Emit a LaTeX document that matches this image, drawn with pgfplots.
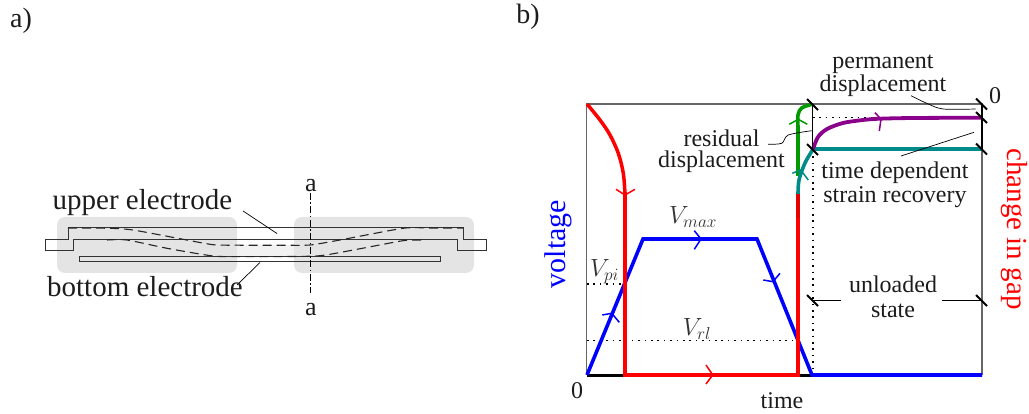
\documentclass[border=0pt]{standalone}
\usepackage{fontspec}
\setmainfont{Liberation Serif}
\usepackage{pgfplots}
\pgfplotsset{compat=1.18}
\definecolor{txt}{HTML}{1C1C1C}
\definecolor{panelgray}{HTML}{E4E4E4}
\definecolor{pale}{HTML}{F2F2F2}
\definecolor{frm}{HTML}{666666}
\definecolor{lteal}{HTML}{008B8B}
\definecolor{lgreen}{HTML}{009A00}
\definecolor{lpurple}{HTML}{8B008B}
\newcommand{\fs}[1]{\fontsize{#1}{#1}\selectfont}
\begin{document}
\begin{tikzpicture}[
  lab/.style={text=txt,inner sep=0pt,anchor=base},
  dots/.style={black,line width=1.6pt,dash pattern=on 1.6pt off 4.8pt},
  slash/.style={black,line width=1.8pt},
  chev/.style={line width=1.5pt},
  ]
\path[use as bounding box] (0,0) rectangle (1029pt,414pt);
\begin{axis}[
  at={(0,0)},anchor=south west,
  width=1029pt,height=414pt,scale only axis,
  xmin=0,xmax=1029,ymin=0,ymax=414,y dir=reverse,
  hide axis,clip=false,
  every axis plot/.append style={no markers,line join=miter},
  ]
% ---------- panel a ----------
\addplot[fill=panelgray,draw=none,rounded corners=8pt] coordinates {(57,217)(237,217)(237,273)(57,273)(57,245)} -- cycle;
\addplot[fill=panelgray,draw=none,rounded corners=8pt] coordinates {(294,217)(474,217)(474,273)(294,273)(294,245)} -- cycle;
\addplot[fill=pale,draw=none] coordinates {(237,245)(294,245)(294,256)(237,256)} -- cycle;
\addplot[black!80,line width=1pt] coordinates {(45,239.4)(68,239.4)(68,228)(463,228)(463,239.4)(486,239.4)(486,250.4)(457,250.4)(457,239.4)(73,239.4)(73,250.4)(45,250.4)} -- cycle;
\addplot[black!80,line width=1pt] coordinates {(79,256.4)(440,256.4)(440,262)(79,262)} -- cycle;
\addplot[black!85,line width=1.1pt,dash pattern=on 9pt off 5pt,smooth,tension=0.4] coordinates {(68,228)(110,228.3)(133,230)(180,238.7)(213,244.7)(240,245.2)(280,245.2)(310,245)(340,240)(403,228.3)(430,228)(463,228)};
\addplot[black!85,line width=1.1pt,dash pattern=on 9pt off 5pt,smooth,tension=0.4] coordinates {(107,240)(127,240)(167,248.3)(213,256)(240,256.6)(280,256.6)(320,255.7)(357,249.3)(403,240.7)(423,240)};
\addplot[black,line width=0.8pt,dash pattern=on 7pt off 2.5pt on 1.5pt off 2.5pt] coordinates {(310.7,193)(310.7,293)};
\addplot[black,line width=0.7pt] coordinates {(243,211)(277,233.5)};
\addplot[black,line width=0.7pt] coordinates {(260,262.5)(237,285)};
\node[lab,font=\fs{29}] at (axis cs:142.5,210) {upper electrode};
\node[lab,font=\fs{29}] at (axis cs:145,297) {bottom electrode};
\node[lab,font=\fs{26}] at (axis cs:311,192) {a};
\node[lab,font=\fs{26}] at (axis cs:311,316) {a};
\node[lab,font=\fs{28}] at (axis cs:21,28) {a)};
\node[lab,font=\fs{28}] at (axis cs:528,24) {b)};
% ---------- panel b ----------
\addplot[frm,line width=1.1pt] coordinates {(586.5,375)(586.5,104)(982,104)(982,375)};
\addplot[black,line width=3pt] coordinates {(586.5,375)(812,375)};
% dotted guides
\addplot[dots] coordinates {(587,284)(625,284)};
\addplot[dots] coordinates {(587,340.7)(800,340.7)};
\addplot[dots] coordinates {(813,117.5)(982,117.5)};
\addplot[dots] coordinates {(813,150)(813,375)};
% voltage
\addplot[blue,line width=3.6pt] coordinates {(587,375)(643,239)(757,239)(812,375)(982,375)};
\addplot[blue,chev] coordinates {(602.3,315)(611.7,313.3)(619.3,322.3)};
\addplot[blue,chev] coordinates {(694.3,230.7)(701,239)(694.3,249.3)};
\addplot[blue,chev] coordinates {(763.3,280)(773,281.7)(780,273.3)};
% gap
\addplot[red,line width=3.5pt,smooth,tension=0.55] coordinates {(587,104)(600,120)(610,135)(618.3,153.3)(623.3,173.3)(625,194)};
\addplot[red,line width=3.6pt] coordinates {(625,192)(625,375)(798,375)(798,192)};
\addplot[red!90!black,line width=3.6pt] coordinates {(798,218)(798,193)};
\addplot[red,chev] coordinates {(616,189.3)(625,195)(635,189.3)};
\addplot[red,chev] coordinates {(706,365)(712.7,375)(706,384)};
% recovery
\addplot[lgreen,line width=3.6pt,smooth,tension=0.5] coordinates {(798,176)(798,130)(798,115)(801.7,108)(811.7,104.3)};
\addplot[lgreen,chev] coordinates {(789.3,124.3)(798.3,119.3)(807.3,124.3)};
\addplot[lteal,line width=3.6pt,smooth,tension=0.5] coordinates {(798,194)(799,180)(805,163)(813,149.3)};
\addplot[lteal,line width=3.6pt] coordinates {(813,149.3)(982,149.3)};
\addplot[lteal,chev] coordinates {(792.3,173.3)(800.7,170)(808.3,180)};
\addplot[lpurple,line width=3.8pt,smooth,tension=0.5] coordinates {(813,149)(818,137)(827,129)(843,123)(863,120)(880,118.7)(913,118)(982,117.7)};
\addplot[lpurple,chev] coordinates {(875,112.7)(881,119)(879.3,131)};
% measure lines
\addplot[black,line width=1.2pt] coordinates {(812.5,104)(812.5,149)};
\addplot[black,line width=1.5pt] coordinates {(982,104)(982,149)};
\addplot[slash] coordinates {(807,99)(818,110)};
\addplot[slash] coordinates {(807,144)(818,155)};
\addplot[slash] coordinates {(976,98.5)(987,109.5)};
\addplot[slash] coordinates {(976,112)(987,123)};
\addplot[slash] coordinates {(976,143.5)(987,154.5)};
\addplot[black,line width=1.2pt] coordinates {(813,300.7)(840.7,300.7)};
\addplot[black,line width=1.2pt] coordinates {(942,300.7)(982,300.7)};
\addplot[slash] coordinates {(807,295)(818,306)};
\addplot[slash] coordinates {(976,295)(987,306)};
% leaders
\addplot[black,line width=0.7pt,smooth,tension=0.5] coordinates {(911,95.7)(926.7,103.3)(943,109)(975.7,109)};
\addplot[black,line width=0.7pt] coordinates {(901,156)(974,132.3)};
\addplot[black,line width=0.7pt,smooth,tension=0.5] coordinates {(768,144.3)(781.7,143.3)(788.3,135)(811.7,130.7)};
% labels
\node[lab,font=\fs{24}] at (axis cs:883,69) {permanent};
\node[lab,font=\fs{24}] at (axis cs:883,92) {displacement};
\node[lab,font=\fs{24}] at (axis cs:995,104) {0};
\node[lab,font=\fs{24}] at (axis cs:721.5,147) {residual};
\node[lab,font=\fs{24}] at (axis cs:721.5,168) {displacement};
\node[lab,font=\fs{24}] at (axis cs:895,179) {time dependent};
\node[lab,font=\fs{24}] at (axis cs:895,203) {strain recovery};
\node[lab,font=\fs{24}] at (axis cs:893,293) {unloaded};
\node[lab,font=\fs{24}] at (axis cs:893,318) {state};
\node[lab,font=\fs{24}] at (axis cs:577,398) {0};
\node[lab,font=\fs{24}] at (axis cs:782,408) {time};
\node[lab,text=txt!90,font=\fs{26}] at (axis cs:693,224) {$V_{max}$};
\node[lab,text=txt!90,font=\fs{26}] at (axis cs:604.5,277) {$V_{pi}$};
\node[lab,text=txt!90,font=\fs{26}] at (axis cs:697,336) {$V_{rl}$};
\node[inner sep=0pt,text=blue,rotate=90,anchor=base,font=\fs{30}] at (axis cs:565,244) {voltage};
\node[inner sep=0pt,text=red,rotate=-90,anchor=base,font=\fs{29}] at (axis cs:1007.5,229) {change in gap};
\end{axis}
\end{tikzpicture}
\end{document}
